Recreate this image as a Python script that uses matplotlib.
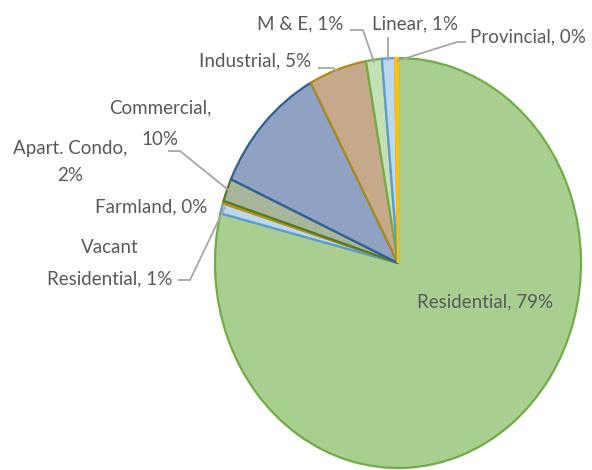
import matplotlib
matplotlib.use("Agg")
import matplotlib.pyplot as plt
import numpy as np

categories = ["Residential", "Vacant\nResidential", "Farmland", "Apart. Condo", "Commercial",
              "Industrial", "M & E", "Linear", "Provincial"]
values = [78.9, 0.8, 0.2, 1.8, 10.4, 5.1, 1.4, 1.15, 0.25]
label_texts = ["Residential, 79%", "Vacant\nResidential, 1%", "Farmland, 0%", "Apart. Condo,\n2%",
               "Commercial,\n10%", "Industrial, 5%", "M & E, 1%", "Linear, 1%", "Provincial, 0%"]

fills = ["#a8cf8f", "#bdd7ee", "#d9c27a", "#a7b598", "#8fa2c4", "#c6a98a", "#c5e0b4", "#bdd7ee", "#ffd966"]
edges = ["#70ad47", "#5b9bd5", "#bf9000", "#4e7a2c", "#2f5f98", "#b08a1a", "#70ad47", "#5b9bd5", "#ffc000"]

W, H = 592, 470
CX, CY, RX, RY = 398, 263, 183, 205

fig = plt.figure(figsize=(W / 100, H / 100), dpi=100)
ax = fig.add_axes([(CX - RX) / W, (H - (CY + RY)) / H, 2 * RX / W, 2 * RY / H])
wedges, _ = ax.pie(values, startangle=90, counterclock=False, radius=1,
                   colors=fills, wedgeprops=dict(linewidth=1.6))
for w, ec in zip(wedges, edges):
    w.set_edgecolor(ec)
ax.set_aspect("auto")
ax.set_xlim(-1, 1)
ax.set_ylim(-1, 1)
ax.axis("off")


def d(x, y):
    return (x - CX) / RX, (CY - y) / RY


def mid(i, r=1.0):
    w = wedges[i]
    t = np.deg2rad((w.theta1 + w.theta2) / 2)
    return r * np.cos(t), r * np.sin(t)


font = dict(family=["Lato", "DejaVu Sans"], color="#595959", fontsize=13.5)
# label anchor pixel positions (center) and line spacing
pos = {
    0: (485, 302, 1.1),
    1: (110, 263, 2.0),
    2: (151, 207, 1.1),
    3: (70, 162, 1.7),
    4: (160, 124, 2.05),
    5: (255, 61, 1.1),
    6: (300, 24, 1.1),
    7: (415, 24, 1.1),
    8: (528, 37, 1.1),
}
for i, (x, y, ls) in pos.items():
    tx, ty = d(x, y)
    ax.text(tx, ty, label_texts[i], ha="center", va="center", multialignment="center",
            linespacing=ls, clip_on=False, **font)

lc = "#a6a6a6"
leaders = {
    1: [(178, 280), (190, 280)],
    3: [(168, 151), (180, 151)],
    5: [(318, 68), (333, 68)],
    6: [(350, 30), (363, 30)],
    7: [(388, 37)],
    8: [(466, 42), (457, 42)],
}
for i, pts in leaders.items():
    xs = [d(*p)[0] for p in pts]
    ys = [d(*p)[1] for p in pts]
    if i == 1:
        ex, ey = d(225, 207)
    else:
        ex, ey = mid(i, 0.985)
    if i == 7:
        ex = xs[0]
    xs.append(ex)
    ys.append(ey)
    ax.plot(xs, ys, color=lc, lw=1.3, clip_on=False, solid_capstyle="butt")

fig.savefig("out.png", dpi=100, facecolor="white")
